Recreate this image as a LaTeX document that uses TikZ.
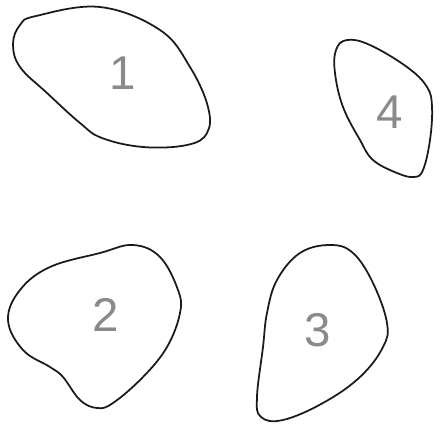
\documentclass[tikz,border=0pt]{standalone}
\usepackage{fontspec}
\setsansfont{Liberation Sans}
\usepackage{xcolor}
\definecolor{blobline}{HTML}{1A1A1A}
\definecolor{blobnum}{HTML}{8A8A8A}
\begin{document}
\begin{tikzpicture}[
    x=0.02cm, y=-0.02cm,
    % Region outlines and their numbers
    blob/.style={draw=blobline, line width=1pt, smooth cycle, tension=0.65},
    numlabel/.style={font=\sffamily\fontsize{27}{31}\selectfont, text=blobnum, inner sep=0pt},
]
\useasboundingbox (0,0) rectangle (441,424);

% ============================================================================
% REGION 1 (top left)
% ============================================================================
\draw[blob] plot coordinates {(36,16) (100,7) (160,30) (190,67) (208,107)
    (207,133) (187,145) (143,147) (102,138) (80,123) (47,93) (20,67) (13,44) (20,25)};
\node[numlabel] (one) at (123,73) {1};

% ============================================================================
% REGION 4 (top right)
% ============================================================================
\draw[blob] plot coordinates {(347,40) (370,45) (407,67) (427,87) (432,107)
    (430,140) (423,170) (414,177) (397,173) (373,160) (360,140) (343,107) (335,73) (336,50)};
\node[numlabel] (four) at (390,112) {4};

% ============================================================================
% REGION 2 (bottom left)
% ============================================================================
\draw[blob] plot coordinates {(133,245) (160,257) (178,290) (180,313) (167,347)
    (143,377) (113,403) (97,408) (80,400) (63,377) (50,367) (23,350) (8,320)
    (20,290) (50,267) (100,253)};
\node[numlabel] (two) at (106,315) {2};

% ============================================================================
% REGION 3 (bottom right)
% ============================================================================
\draw[blob] plot coordinates {(330,245) (353,253) (373,283) (387,323) (383,347)
    (360,377) (323,403) (283,420) (261,417) (257,397) (263,347) (267,313)
    (277,280) (300,253)};
\node[numlabel] (three) at (318,330) {3};

\end{tikzpicture}
\end{document}
